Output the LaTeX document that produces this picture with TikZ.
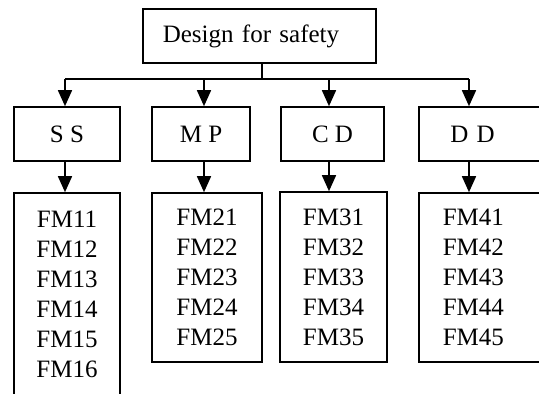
\documentclass[tikz,border=0pt]{standalone}
\usepackage{fontspec}
\setmainfont{Liberation Serif}
\usetikzlibrary{arrows.meta}
\begin{document}
\begin{tikzpicture}[x=1pt,y=-1pt,
  box/.style={draw, line width=1.6pt, minimum height=54pt, inner sep=0pt, font=\fontsize{25}{30}\selectfont},
  list/.style={draw, line width=1.6pt, inner sep=0pt, align=center, font=\fontsize{25}{30}\selectfont},
  conn/.style={line width=1.6pt},
  arr/.style={line width=1.6pt, -{Triangle[width=14pt,length=16pt]}}]
\useasboundingbox (0,0) rectangle (539,394);
\clip (0,0) rectangle (539,394);
% top
\node[box, anchor=west, text width=193pt, inner xsep=20pt, align=left] (top) at (142,36) {Design for safety};
% second row
\node[box, minimum width=106pt] (ss) at (67,134) {S S};
\node[box, minimum width=98pt] (mp) at (201,134) {M P};
\node[box, minimum width=103pt] (cd) at (332.5,134) {C D};
\node[box, anchor=west, text width=64pt, inner xsep=31.5pt, align=left] (dd) at (418,134) {D D};
% lists
\node[list, minimum width=106pt, minimum height=203pt] (fm1) at (67,294.5) {FM11\\FM12\\FM13\\FM14\\FM15\\FM16};
\node[list, minimum width=110pt, minimum height=169pt] (fm2) at (207,277.5) {FM21\\FM22\\FM23\\FM24\\FM25};
\node[list, minimum width=107pt, minimum height=170pt] (fm3) at (333.5,277) {FM31\\FM32\\FM33\\FM34\\FM35};
\node[list, anchor=west, text width=79pt, inner xsep=24pt, align=left, minimum height=169pt] (fm4) at (418,277.5) {FM41\\FM42\\FM43\\FM44\\FM45};
% connectors
\coordinate (j) at (262,79);
\coordinate (ddtop) at ([xshift=51pt]dd.north west);
\coordinate (ddbot) at ([xshift=51pt]dd.south west);
\draw[conn] (j |- top.south) -- (j);
\draw[conn] ([xshift=-2pt]ss.north |- j) -- (ddtop |- j);
\draw[arr] ([xshift=-2pt]ss.north |- j) -- ([xshift=-2pt]ss.north);
\draw[arr] ([xshift=3pt]mp.north |- j) -- ([xshift=3pt]mp.north);
\draw[arr] ([xshift=-3.5pt]cd.north |- j) -- ([xshift=-3.5pt]cd.north);
\draw[arr] (ddtop |- j) -- (ddtop);
\draw[arr] ([xshift=-2pt]ss.south) -- ([xshift=-2pt]ss.south |- fm1.north);
\draw[arr] ([xshift=3pt]mp.south) -- ([xshift=3pt]mp.south |- fm2.north);
\draw[arr] ([xshift=-3.5pt]cd.south) -- ([xshift=-3.5pt]cd.south |- fm3.north);
\draw[arr] (ddbot) -- (ddbot |- fm4.north);
\end{tikzpicture}
\end{document}
